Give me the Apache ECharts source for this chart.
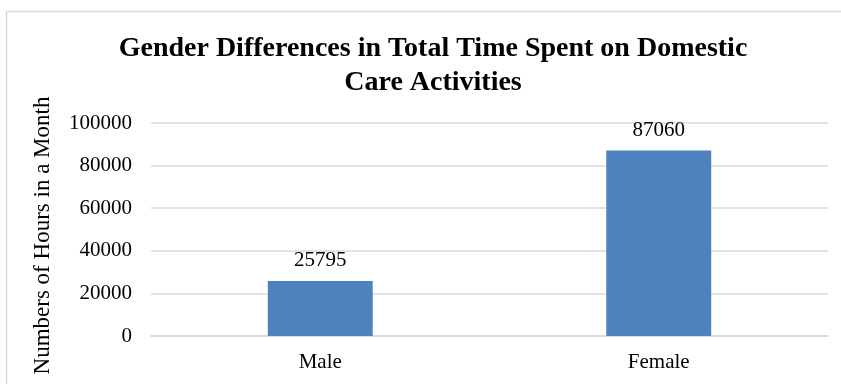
<!DOCTYPE html>
<html>
  <head>
    <title></title>
    <meta charset="UTF-8" />
    <script src="https://cdn.jsdelivr.net/npm/echarts@6/dist/echarts.min.js"></script>
    <style>
      body { margin: 0; background: #fff; }
    </style>
  </head>
  <body>
    <div id="main"></div>
    <script>
      const width = 841;
      const height = 384;
      const main = document.getElementById('main');
      main.style.width = `${width}px`;
      main.style.height = `${height}px`;

      const categories = ['Male', 'Female'];
      const hours = [25795, 87060];
      const yTicks = [0, 20000, 40000, 60000, 80000, 100000];

      const font = '"Liberation Serif", "Times New Roman", serif';

      const myChart = echarts.init(main, null, { renderer: 'canvas' });
      const option = {
        animation: false,
        backgroundColor: '#fff',
        graphic: [
          {
            type: 'rect',
            shape: { x: 6.5, y: 11.5, width: 900, height: 500 },
            style: { fill: 'none', stroke: '#d9d9d9', lineWidth: 1.5 },
            silent: true
          }
        ],
        title: {
          text: 'Gender Differences in Total Time Spent on Domestic\nCare Activities',
          left: 428,
          textAlign: 'center',
          top: 27,
          textStyle: {
            fontFamily: font,
            fontWeight: 'bold',
            fontSize: 28,
            lineHeight: 34,
            color: '#000'
          }
        },
        grid: {
          left: 151,
          right: 13,
          top: 123,
          bottom: 48,
          containLabel: false
        },
        xAxis: {
          type: 'category',
          data: categories,
          axisLine: { show: true, lineStyle: { color: '#d9d9d9', width: 1.5 } },
          axisTick: { show: false },
          axisLabel: {
            fontFamily: font,
            fontSize: 21,
            color: '#000',
            margin: 16
          }
        },
        yAxis: {
          type: 'value',
          min: yTicks[0],
          max: yTicks[yTicks.length - 1],
          interval: 20000,
          name: 'Numbers of Hours in a Month',
          nameLocation: 'middle',
          nameGap: 97,
          nameTextStyle: {
            fontFamily: font,
            fontSize: 23,
            color: '#000',
            padding: [0, 12, 0, 0]
          },
          axisLine: { show: false },
          axisTick: { show: false },
          splitLine: { lineStyle: { color: '#d9d9d9', width: 1.5 } },
          axisLabel: {
            fontFamily: font,
            fontSize: 21,
            color: '#000',
            margin: 19,
            formatter: v => String(v)
          }
        },
        series: [
          {
            type: 'bar',
            data: hours,
            barWidth: '31%',
            itemStyle: { color: '#4f81bd' },
            label: {
              show: true,
              position: 'top',
              distance: 10,
              fontFamily: font,
              fontSize: 21,
              color: '#000'
            }
          }
        ]
      };
      myChart.setOption(option);
    </script>
  </body>
</html>
